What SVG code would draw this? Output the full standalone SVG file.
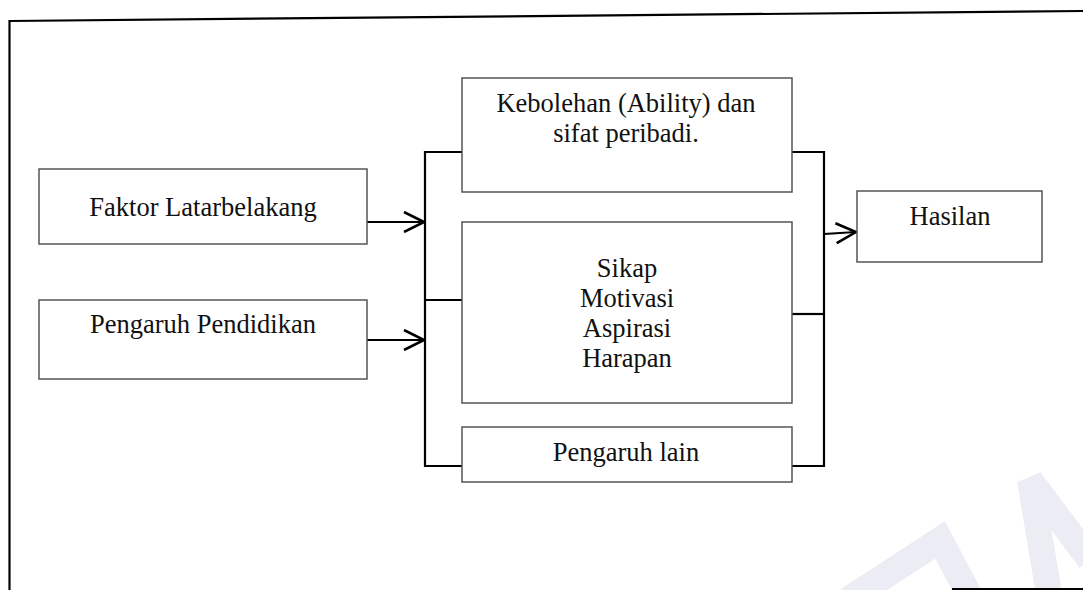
<svg xmlns="http://www.w3.org/2000/svg" width="1083" height="590" viewBox="0 0 1083 590">
<style>
.box{fill:#fff;stroke:#555;stroke-width:1.5}
.t{font-family:"Liberation Serif","Times New Roman",serif;font-size:26.5px;fill:#111;text-anchor:middle}
.c{fill:none;stroke:#000;stroke-width:2.2}
.frame{fill:none;stroke:#000;stroke-width:2.2}
.wm{fill:none;stroke:#ececf4;stroke-width:26;stroke-linejoin:miter}
</style>
<defs>
<marker id="arr" viewBox="0 0 22 22" refX="21" refY="11" markerWidth="22" markerHeight="22" markerUnits="userSpaceOnUse" orient="auto">
<path d="M1,1 L21,11 L1,21" fill="none" stroke="#000" stroke-width="2.6"/>
</marker>
</defs>
<rect width="1083" height="590" fill="#fff"/>
<g id="watermark">
<polyline class="wm" points="848,600 940,540 972,600"/>
<polyline class="wm" points="1050,600 1030,480 1090,560"/>
</g>
<g id="frame">
<line class="frame" x1="9.5" y1="21" x2="1083" y2="11"/>
<line class="frame" x1="9.5" y1="20" x2="9.5" y2="590"/>
<line class="frame" x1="952" y1="589" x2="1083" y2="589"/>
</g>
<g id="connectors">
<line class="c" x1="367" y1="222" x2="424" y2="222" marker-end="url(#arr)"/>
<line class="c" x1="367" y1="340" x2="424" y2="340" marker-end="url(#arr)"/>
<polyline class="c" points="462,152 425,152 425,466 462,466"/>
<line class="c" x1="425" y1="300" x2="462" y2="300"/>
<polyline class="c" points="792,152 824,152 824,466 792,466"/>
<line class="c" x1="792" y1="314" x2="824" y2="314"/>
<line class="c" x1="824" y1="234" x2="856" y2="232" marker-end="url(#arr)"/>
</g>
<g id="faktor">
<rect class="box" x="39" y="169" width="328" height="75"/>
<text class="t" x="203" y="216">Faktor Latarbelakang</text>
</g>
<g id="pendidikan">
<rect class="box" x="39" y="300" width="328" height="79"/>
<text class="t" x="203" y="333">Pengaruh Pendidikan</text>
</g>
<g id="kebolehan">
<rect class="box" x="462" y="78" width="330" height="114"/>
<text class="t" x="626" y="112">Kebolehan (Ability) dan</text>
<text class="t" x="626" y="142">sifat peribadi.</text>
</g>
<g id="sikap">
<rect class="box" x="462" y="222" width="330" height="181"/>
<text class="t" x="627" y="277">Sikap</text>
<text class="t" x="627" y="307">Motivasi</text>
<text class="t" x="627" y="337">Aspirasi</text>
<text class="t" x="627" y="367">Harapan</text>
</g>
<g id="lain">
<rect class="box" x="462" y="427" width="330" height="55"/>
<text class="t" x="626" y="461">Pengaruh lain</text>
</g>
<g id="hasilan">
<rect class="box" x="857" y="191" width="185" height="71"/>
<text class="t" x="950" y="225">Hasilan</text>
</g>
</svg>
